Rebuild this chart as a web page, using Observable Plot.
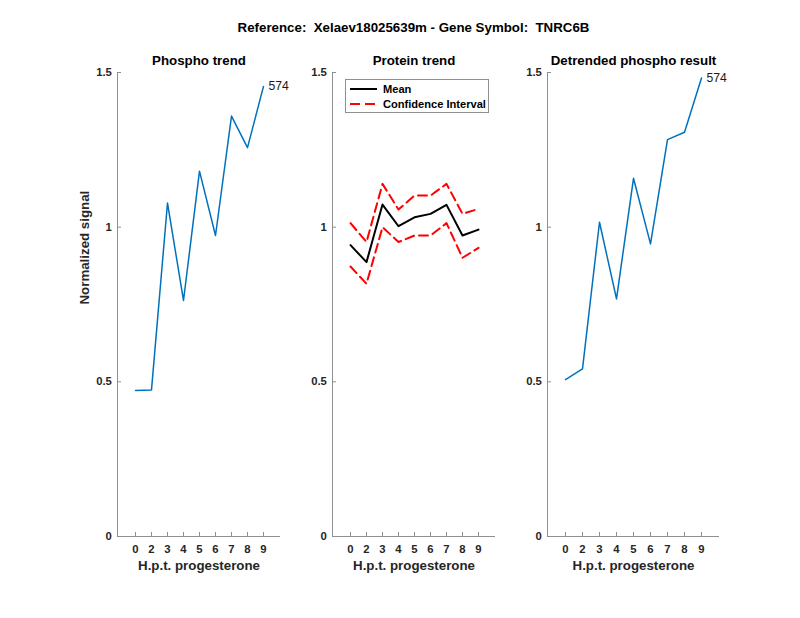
<!DOCTYPE html>
<html><head><meta charset="utf-8">
<script src="https://cdn.jsdelivr.net/npm/d3@7"></script>
<script src="https://cdn.jsdelivr.net/npm/@observablehq/plot@0.6"></script>
<style>
body{margin:0;background:#fff;}
#fig{position:relative;width:800px;height:618px;background:#fff;font-family:"Liberation Sans",Arial,Helvetica,sans-serif;overflow:hidden;}
.panel{position:absolute;top:0;}
#title{position:absolute;top:19.5px;left:413.5px;transform:translateX(-50%);white-space:pre;font-weight:bold;font-size:13.3px;line-height:16px;color:#000;}
#legend{position:absolute;left:345px;top:79px;}
</style></head><body>
<div id="fig"><div id="title"></div></div>
<script>
const hours = [0, 2, 3, 4, 5, 6, 7, 8, 9];
const phospho = [0.472, 0.474, 1.078, 0.763, 1.181, 0.973, 1.359, 1.257, 1.455];
const proteinMean = [0.942, 0.887, 1.073, 1.003, 1.032, 1.043, 1.072, 0.973, 0.992];
const proteinUpper = [1.013, 0.952, 1.140, 1.057, 1.102, 1.102, 1.140, 1.043, 1.059];
const proteinLower = [0.873, 0.817, 1.000, 0.952, 0.973, 0.973, 1.013, 0.901, 0.933];
const detrended = [0.507, 0.542, 1.016, 0.768, 1.158, 0.946, 1.283, 1.307, 1.482];
const yTicks = [0, 0.5, 1, 1.5];
const siteLabel = "574";
const panelTitles = ["Phospho trend", "Protein trend", "Detrended phospho result"];
const xLabel = "H.p.t. progesterone";
const yLabel = "Normalized signal";
const mainTitle = "Reference:  Xelaev18025639m - Gene Symbol:  TNRC6B";
const legendLabels = ["Mean", "Confidence Interval"];

const AX = "#8f8f8f", TXT = "#262626", FONT = "Liberation Sans, Arial, Helvetica, sans-serif";
const rows = (vals) => hours.map((h, i) => ({h, v: vals[i]}));

document.getElementById("title").textContent = mainTitle;

function base(title, withY) {
  const m = [
    Plot.ruleY([0], {stroke: AX, strokeWidth: 1}),
    Plot.frame({anchor: "left", stroke: AX, strokeWidth: 1}),
    Plot.axisY(yTicks, {tickSize: -4, tickPadding: 9.6, tickFormat: d => String(d), stroke: AX, fill: TXT, fontSize: 11.3, fontWeight: "bold", label: null}),
    Plot.axisX(hours, {tickSize: -4, tickPadding: 12.3, tickFormat: d => String(d), stroke: AX, fill: TXT, fontSize: 11.3, fontWeight: "bold", label: null}),
    Plot.text([title], {text: d => d, frameAnchor: "top", dy: -7.5, lineAnchor: "bottom", fontSize: 13.3, fontWeight: "bold", fill: "#000"}),
    Plot.text([xLabel], {text: d => d, frameAnchor: "bottom", dy: 33, lineAnchor: "bottom", fontSize: 13.3, fontWeight: "bold", fill: TXT})
  ];
  if (withY) m.push(Plot.text([yLabel], {text: d => d, frameAnchor: "left", rotate: -90, dx: -32.5, lineAnchor: "middle", fontSize: 13.3, fontWeight: "bold", fill: TXT}));
  return m;
}

function panel(left, width, ml, mr, marks) {
  const svg = Plot.plot({
    width, height: 618,
    marginLeft: ml, marginRight: mr, marginTop: 72, marginBottom: 82,
    x: {type: "point", domain: hours, padding: 1},
    y: {domain: [0, 1.5]},
    style: {fontFamily: FONT, overflow: "visible", background: "transparent"},
    marks
  });
  svg.classList.add("panel");
  svg.style.left = left + "px";
  svg.style.position = "absolute";
  svg.style.top = "0px";
  document.getElementById("fig").appendChild(svg);
}

function endLabel(vals) {
  const d = rows(vals);
  return Plot.text([d[d.length - 1]], {x: "h", y: "v", text: () => siteLabel, dx: 5, textAnchor: "start", lineAnchor: "middle", fontSize: 12.2, fill: "#1a1a1a"});
}

panel(0, 300, 117, 20, [
  ...base(panelTitles[0], true),
  Plot.line(rows(phospho), {x: "h", y: "v", stroke: "#0072BD", strokeWidth: 1.5}),
  endLabel(phospho)
]);

panel(300, 210, 32, 15, [
  ...base(panelTitles[1], false),
  Plot.line(rows(proteinUpper), {x: "h", y: "v", stroke: "#FF0000", strokeWidth: 2, strokeDasharray: "9,5"}),
  Plot.line(rows(proteinLower), {x: "h", y: "v", stroke: "#FF0000", strokeWidth: 2, strokeDasharray: "9,5"}),
  Plot.line(rows(proteinMean), {x: "h", y: "v", stroke: "#000", strokeWidth: 2})
]);

panel(510, 290, 37, 81, [
  ...base(panelTitles[2], false),
  Plot.line(rows(detrended), {x: "h", y: "v", stroke: "#0072BD", strokeWidth: 1.5}),
  endLabel(detrended)
]);

// legend
const lg = d3.select("#fig").append("svg").attr("id", "legend").attr("width", 146).attr("height", 36);
lg.append("rect").attr("x", 0.5).attr("y", 0.5).attr("width", 143).attr("height", 33).attr("fill", "#fff").attr("stroke", AX);
const entries = [
  {label: legendLabels[0], stroke: "#000", dash: null, y: 10, x2: 32},
  {label: legendLabels[1], stroke: "#FF0000", dash: "10,5", y: 25, x2: 30}
];
entries.forEach(e => {
  lg.append("line").attr("x1", 5).attr("x2", e.x2).attr("y1", e.y).attr("y2", e.y)
    .attr("stroke", e.stroke).attr("stroke-width", 2).attr("stroke-dasharray", e.dash);
  lg.append("text").attr("x", 38).attr("y", e.y).attr("dy", "0.35em")
    .attr("font-family", FONT).attr("font-size", 11.1).attr("font-weight", "bold").attr("fill", "#000").text(e.label);
});
</script>
</body></html>
